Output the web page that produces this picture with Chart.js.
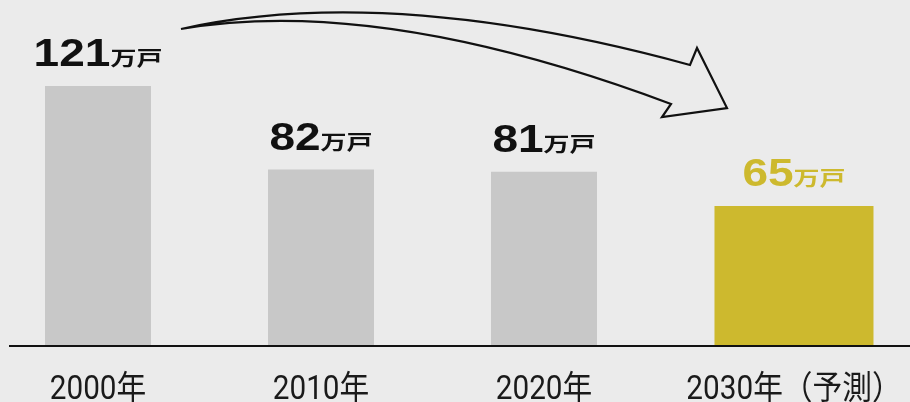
<!DOCTYPE html>
<html>
<head>
<meta charset="utf-8">
<script src="https://cdn.jsdelivr.net/npm/chart.js@4.4.1/dist/chart.umd.min.js"></script>
<style>
  html,body{margin:0;padding:0;background:#ebebeb;}
  #wrap{width:910px;height:402px;position:relative;}
</style>
</head>
<body>
<div id="wrap"><canvas id="houseChart"></canvas></div>
<script>
const categories = ["2000年", "2010年", "2020年", "2030年（予測）"];
const actual   = [121, 82, 81, null];
const forecast = [null, null, null, 65];
const unit = "万戸";

const GREY = "#c8c8c8";
const GOLD = "#cdb92e";

function drawStretched(ctx, text, x, y, sx){
    ctx.save();
    ctx.translate(x, y);
    ctx.scale(sx, 1);
    ctx.fillText(text, 0, 0);
    ctx.restore();
}

// value labels, category labels, baseline and the big arrow
const decorations = {
    id: "decorations",
    afterDatasetsDraw(chart){
        const ctx = chart.ctx;
        const y0 = chart.scales.y.getPixelForValue(0);

        // baseline
        ctx.save();
        ctx.strokeStyle = "#111";
        ctx.lineWidth = 2;
        ctx.beginPath();
        ctx.moveTo(9, y0 + 1);
        ctx.lineTo(chart.width, y0 + 1);
        ctx.stroke();
        ctx.restore();

        categories.forEach((cat, i) => {
            let d = actual[i] !== null ? 0 : 1;
            let el = chart.getDatasetMeta(d).data[i];
            let val = chart.data.datasets[d].data[i];
            let color = d === 0 ? "#111" : GOLD;

            ctx.save();
            ctx.fillStyle = color;
            ctx.textBaseline = "alphabetic";
            ctx.textAlign = "left";
            let num = String(val);
            ctx.font = "bold 39px 'Liberation Sans'";
            let nw = ctx.measureText(num).width * 1.18;
            ctx.font = "bold 20px 'Noto Sans CJK JP'";
            let uw = ctx.measureText(unit).width * 1.3;
            let start = el.x - (nw + uw) / 2;
            let base = el.y - 20;
            ctx.font = "bold 39px 'Liberation Sans'";
            drawStretched(ctx, num, start, base, 1.18);
            ctx.font = "bold 20px 'Noto Sans CJK JP'";
            drawStretched(ctx, unit, start + nw, base, 1.3);

            // category label under the baseline
            ctx.fillStyle = "#1a1a1a";
            ctx.font = "33px Roboto, 'Noto Sans CJK JP'";
            let cw = ctx.measureText(cat).width * 0.9;
            drawStretched(ctx, cat, el.x - cw / 2, 399, 0.9);
            ctx.restore();
        });

        // curved arrow outline
        ctx.save();
        ctx.strokeStyle = "#111";
        ctx.lineWidth = 2.2;
        ctx.lineJoin = "miter";
        ctx.beginPath();
        ctx.moveTo(181, 29);
        ctx.quadraticCurveTo(390, -17, 690, 65);
        ctx.lineTo(697, 48);
        ctx.lineTo(727, 108);
        ctx.lineTo(662, 117);
        ctx.lineTo(671, 104);
        ctx.quadraticCurveTo(380, -5, 181, 29);
        ctx.closePath();
        ctx.stroke();
        ctx.restore();
    }
};

new Chart(document.getElementById("houseChart"), {
    type: "bar",
    data: {
        labels: categories,
        datasets: [
            {
                label: "実績",
                data: actual,
                backgroundColor: GREY,
                // two slots per category: grey sits in the left one, gold in the right one
                categoryPercentage: 0.242,
                barPercentage: 5,
                maxBarThickness: 106
            },
            {
                label: "予測",
                data: forecast,
                backgroundColor: GOLD,
                categoryPercentage: 0.242,
                barPercentage: 7,
                maxBarThickness: 159
            }
        ]
    },
    options: {
        responsive: true,
        maintainAspectRatio: false,
        animation: false,
        layout: { padding: { top: 24, bottom: 57, left: 0, right: 18 } },
        plugins: {
            legend: { display: false },
            tooltip: { enabled: false }
        },
        scales: {
            x: { display: false },
            y: { display: false, min: 0, max: 150 }
        }
    },
    plugins: [decorations]
});
</script>
</body>
</html>
